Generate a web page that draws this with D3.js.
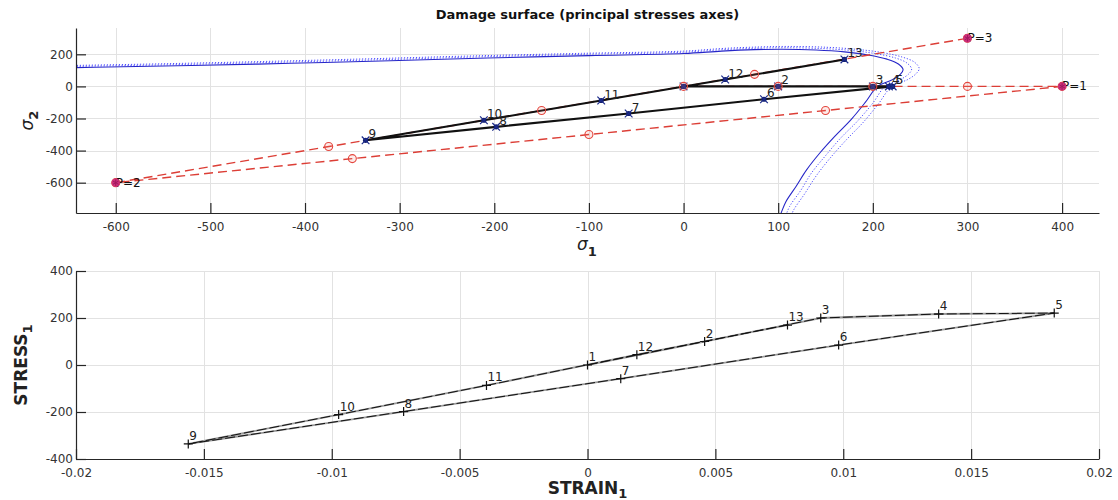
<!DOCTYPE html>
<html>
<head>
<meta charset="utf-8">
<script src="https://cdn.jsdelivr.net/npm/d3@7"></script>
<style>
  body { margin: 0; background: #fff; }
  svg { display: block; }
  text { font-family: "DejaVu Sans", "Liberation Sans", sans-serif; }
</style>
</head>
<body>
<svg id="chart" width="1118" height="500"></svg>
<script>
// ---- load steps (principal stresses and strain) ----
const steps   = [1, 2, 3, 4, 5, 6, 7, 8, 9, 10, 11, 12, 13];
const sigma1  = [0, 100, 200, 217, 221, 85, -58, -198, -336, -211, -87, 44, 170];
const sigma2  = [0, 0, 0, 0, 0, -80, -169, -252, -336, -211, -88, 43, 168];
const strain1 = [0, 0.00458, 0.00912, 0.01373, 0.01825, 0.00982, 0.0013, -0.00719, -0.01561, -0.00973, -0.00395, 0.00193, 0.00782];
// steps whose number is printed next to the stress-space marker
const stressSpaceLabelled = [2, 3, 4, 5, 6, 7, 8, 9, 10, 11, 12, 13];

// ---- prescribed load path (P points) ----
const loadPathS1 = [0, 400, -600, 300];
const loadPathS2 = [0, 0, -600, 300];
const pointsP    = [[400, 0, "P=1"], [-600, -600, "P=2"], [300, 300, "P=3"]];
const pathCircles = [[0, 0], [100, 0], [200, 0], [300, 0], [400, 0],
                     [150, -150], [-100, -300], [-350, -450], [-600, -600],
                     [-375, -375], [-150, -150], [75, 75], [300, 300]];

// ---- damage surfaces in principal stress space (initial + two later states) ----
const surfaceInitial = [[-720,108],[-622,119],[-520,130],[-415,144],[-310,160],[-207,177],[-100,192],
  [0,205],[40,220],[75,229],[104,232],[140,227],[170,215],[195,196],[215,170],[227,140],[232,104],
  [229,75],[220,40],[205,0],[192,-100],[177,-207],[160,-310],[144,-415],[130,-520],[119,-622],
  [108,-720],[103,-790],[100,-830]];
const surfaceMid = [[-749,112],[-647,124],[-541,135],[-432,150],[-322,166],[-215,184],[-104,200],
  [0,213],[42,229],[78,238],[108,241],[146,236],[177,224],[203,204],[224,177],[236,146],[241,108],
  [238,78],[229,42],[213,0],[200,-104],[184,-215],[166,-322],[150,-432],[135,-541],[124,-647],
  [112,-749],[107,-822],[104,-863]];
const surfaceLast = [[-774,116],[-669,128],[-559,140],[-446,155],[-333,172],[-223,190],[-108,206],
  [0,220],[43,237],[81,246],[112,249],[151,244],[183,231],[210,211],[231,183],[244,151],[249,112],
  [246,81],[237,43],[220,0],[206,-108],[190,-223],[172,-333],[155,-446],[140,-559],[128,-669],
  [116,-774],[111,-849],[108,-892]];

// ---- ticks ----
const topXTicks = [-600, -500, -400, -300, -200, -100, 0, 100, 200, 300, 400];
const topYTicks = [-600, -400, -200, 0, 200];
const botXTicks = [-0.02, -0.015, -0.01, -0.005, 0, 0.005, 0.01, 0.015, 0.02];
const botYTicks = [-400, -200, 0, 200, 400];

const svg = d3.select("#chart");
const boxA = { left: 76, right: 1099, top: 28, bottom: 213 };
const boxB = { left: 76, right: 1099, top: 271, bottom: 459 };

const xA = d3.scaleLinear().domain([-642, 439]).range([boxA.left, boxA.right]);
const yA = d3.scaleLinear().domain([-789, 364]).range([boxA.bottom, boxA.top]);
const xB = d3.scaleLinear().domain([-0.02, 0.02]).range([boxB.left, boxB.right]);
const yB = d3.scaleLinear().domain([-400, 400]).range([boxB.bottom, boxB.top]);

const defs = svg.append("defs");
[["clipA", boxA], ["clipB", boxB]].forEach(([id, b]) => {
  defs.append("clipPath").attr("id", id).append("rect")
    .attr("x", b.left).attr("y", b.top).attr("width", b.right - b.left).attr("height", b.bottom - b.top);
});

function drawGrid(b, xs, ys, xt, yt) {
  const g = svg.append("g").attr("stroke", "#e2e2e2").attr("stroke-width", 1);
  g.selectAll("line.gx").data(xt).join("line").attr("class", "gx")
    .attr("x1", d => Math.round(xs(d)) + 0.5).attr("x2", d => Math.round(xs(d)) + 0.5)
    .attr("y1", b.top).attr("y2", b.bottom);
  g.selectAll("line.gy").data(yt).join("line").attr("class", "gy")
    .attr("y1", d => Math.round(ys(d)) + 0.5).attr("y2", d => Math.round(ys(d)) + 0.5)
    .attr("x1", b.left).attr("x2", b.right);
}

function drawAxes(b, xs, ys, xt, yt) {
  const ax = svg.append("g").attr("transform", `translate(0,${b.bottom})`)
    .call(d3.axisBottom(xs).tickValues(xt).tickSizeInner(-10).tickSizeOuter(0).tickPadding(9)
      .tickFormat(d => String(d)));
  const ay = svg.append("g").attr("transform", `translate(${b.left},0)`)
    .call(d3.axisLeft(ys).tickValues(yt).tickSizeInner(-10).tickSizeOuter(0).tickPadding(3)
      .tickFormat(d => String(d)));
  [ax, ay].forEach(g => {
    g.select(".domain").attr("stroke", "#262626").attr("stroke-width", 1.2);
    g.selectAll(".tick line").attr("stroke", "#262626").attr("stroke-width", 1.2);
    g.selectAll(".tick text").attr("fill", "#333").style("font-size", "12px")
      .style("font-family", '"DejaVu Sans", sans-serif');
  });
}

// ===== upper plot: damage surface =====
drawGrid(boxA, xA, yA, topXTicks, topYTicks);

const plotA = svg.append("g").attr("clip-path", "url(#clipA)");
const surfLine = d3.line().x(d => xA(d[0])).y(d => yA(d[1])).curve(d3.curveCatmullRom.alpha(0.5));

plotA.append("path").datum(surfaceLast).attr("d", surfLine)
  .attr("fill", "none").attr("stroke", "#4d4dff").attr("stroke-width", 1).attr("stroke-dasharray", "1.2,1.8");
plotA.append("path").datum(surfaceMid).attr("d", surfLine)
  .attr("fill", "none").attr("stroke", "#4d4dff").attr("stroke-width", 1).attr("stroke-dasharray", "1.2,1.8");
plotA.append("path").datum(surfaceInitial).attr("d", surfLine)
  .attr("fill", "none").attr("stroke", "#2626c8").attr("stroke-width", 1.1);

// prescribed load path
const loadPts = loadPathS1.map((v, i) => [v, loadPathS2[i]]);
plotA.append("path").datum(loadPts)
  .attr("d", d3.line().x(d => xA(d[0])).y(d => yA(d[1])))
  .attr("fill", "none").attr("stroke", "#dc3e36").attr("stroke-width", 1.4).attr("stroke-dasharray", "9,5");

// computed stress path
const stressPts = steps.map((s, i) => [sigma1[i], sigma2[i], s]);
plotA.append("path").datum(stressPts)
  .attr("d", d3.line().x(d => xA(d[0])).y(d => yA(d[1])))
  .attr("fill", "none").attr("stroke", "#111").attr("stroke-width", 2.1).attr("stroke-linejoin", "round");

const mk = plotA.append("g");
mk.selectAll("circle").data(stressPts).join("circle")
  .attr("cx", d => xA(d[0])).attr("cy", d => yA(d[1])).attr("r", 2.6).attr("fill", "#14206e");
mk.selectAll("path").data(stressPts).join("path")
  .attr("transform", d => `translate(${xA(d[0])},${yA(d[1])})`)
  .attr("d", d3.symbol(d3.symbolTimes, 40))
  .attr("fill", "none").attr("stroke", "#1b2a8a").attr("stroke-width", 1.2);

plotA.selectAll("circle.pc").data(pathCircles).join("circle").attr("class", "pc")
  .attr("cx", d => xA(d[0])).attr("cy", d => yA(d[1])).attr("r", 4)
  .attr("fill", "rgba(240,120,110,0.15)").attr("stroke", "#e4463e").attr("stroke-width", 1.1);

// step numbers
svg.append("g").selectAll("text")
  .data(stressPts.filter(d => stressSpaceLabelled.includes(d[2]))).join("text")
  .attr("x", d => xA(d[0]) + 3).attr("y", d => yA(d[1]) - 2)
  .attr("fill", "#222").style("font-size", "12px").text(d => d[2]);

// P markers and labels
const pg = svg.append("g");
pg.selectAll("text").data(pointsP).join("text")
  .attr("x", d => xA(d[0])).attr("y", d => yA(d[1]) + 4)
  .attr("fill", "#111").style("font-size", "12px").text(d => d[2]);
pg.selectAll("circle").data(pointsP).join("circle")
  .attr("cx", d => xA(d[0])).attr("cy", d => yA(d[1])).attr("r", 4.2).attr("fill", "#cc2f7a");
pg.selectAll("path").data(pointsP).join("path")
  .attr("transform", d => `translate(${xA(d[0])},${yA(d[1])})`)
  .attr("d", d3.symbol(d3.symbolAsterisk, 30))
  .attr("fill", "none").attr("stroke", "#a0185e").attr("stroke-width", 1);

drawAxes(boxA, xA, yA, topXTicks, topYTicks);

// title and axis labels
svg.append("text").attr("x", 587.5).attr("y", 19).attr("text-anchor", "middle")
  .style("font-size", "13px").style("font-weight", "bold").attr("fill", "#111")
  .text("Damage surface (principal stresses axes)");

const lx = svg.append("text").attr("x", 587).attr("y", 250).attr("text-anchor", "middle").attr("fill", "#222");
lx.append("tspan").style("font-style", "italic").style("font-size", "17px").text("σ");
lx.append("tspan").attr("dy", 6).style("font-weight", "bold").style("font-size", "13px").text("1");

const ly = svg.append("text").attr("transform", `translate(33,${(boxA.top + boxA.bottom) / 2}) rotate(-90)`)
  .attr("text-anchor", "middle").attr("fill", "#222");
ly.append("tspan").style("font-style", "italic").style("font-size", "17px").text("σ");
ly.append("tspan").attr("dy", 5).style("font-weight", "bold").style("font-size", "13px").text("2");

// ===== lower plot: stress-strain =====
drawGrid(boxB, xB, yB, botXTicks, botYTicks);

const plotB = svg.append("g").attr("clip-path", "url(#clipB)");
const ssPts = steps.map((s, i) => [strain1[i], sigma1[i], s]);
const ssLine = d3.line().x(d => xB(d[0])).y(d => yB(d[1]));
plotB.append("path").datum(ssPts).attr("d", ssLine)
  .attr("fill", "none").attr("stroke", "#9a9a9a").attr("stroke-width", 1.8);
plotB.append("path").datum(ssPts).attr("d", ssLine)
  .attr("fill", "none").attr("stroke", "#111").attr("stroke-width", 1).attr("stroke-dasharray", "10,3");
plotB.selectAll("path.plus").data(ssPts).join("path").attr("class", "plus")
  .attr("d", d => {
    const px = xB(d[0]), py = yB(d[1]);
    return `M${px - 4.5},${py}H${px + 4.5}M${px},${py - 4.5}V${py + 4.5}`;
  })
  .attr("stroke", "#111").attr("stroke-width", 1.2);

svg.append("g").selectAll("text").data(ssPts).join("text")
  .attr("x", d => xB(d[0]) + 1).attr("y", d => yB(d[1]) - 4)
  .attr("fill", "#222").style("font-size", "12px").text(d => d[2]);

drawAxes(boxB, xB, yB, botXTicks, botYTicks);

const sx = svg.append("text").attr("x", 587.5).attr("y", 494).attr("text-anchor", "middle").attr("fill", "#222")
  .style("font-weight", "bold");
sx.append("tspan").style("font-size", "17px").text("STRAIN");
sx.append("tspan").attr("dy", 4).style("font-size", "13px").text("1");

const sy = svg.append("text").attr("transform", `translate(27,${(boxB.top + boxB.bottom) / 2}) rotate(-90)`)
  .attr("text-anchor", "middle").attr("fill", "#222").style("font-weight", "bold");
sy.append("tspan").style("font-size", "17px").text("STRESS");
sy.append("tspan").attr("dy", 5).style("font-size", "13px").text("1");
</script>
</body>
</html>
